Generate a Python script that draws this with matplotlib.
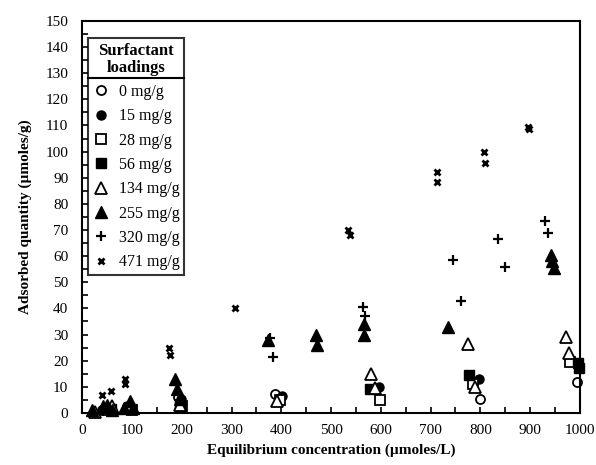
import numpy as np
import matplotlib
matplotlib.use('Agg')
from matplotlib import pyplot as plt
from matplotlib.ticker import MultipleLocator
from matplotlib.lines import Line2D

plt.rcParams['font.family'] = ['Liberation Serif', 'DejaVu Serif']

# surfactant loadings and their data (equilibrium conc, adsorbed quantity)
labels = ['0 mg/g', '15 mg/g', '28 mg/g', '56 mg/g', '134 mg/g', '255 mg/g', '320 mg/g', '471 mg/g']

x0 = [40, 95, 192, 388, 799, 994]
y0 = [1, 1.5, 6, 7.2, 5.5, 12]

x15 = [48, 90, 198, 402, 596, 797]
y15 = [2, 2.5, 5.5, 6.5, 10, 13]

x28 = [52, 100, 200, 398, 598, 785, 981]
y28 = [1, 1, 2.5, 5, 5, 11, 19.5]

x56 = [58, 98, 196, 578, 777, 996, 998]
y56 = [1.5, 1.5, 3.5, 9, 14.5, 19, 17]

x134 = [25, 60, 92, 196, 392, 581, 589, 776, 790, 972, 978]
y134 = [0.5, 2.5, 2, 3, 4.5, 15, 9.5, 26.5, 10, 29, 23]

x255 = [20, 42, 50, 60, 83, 95, 102, 187, 190, 197, 373, 469, 472, 567, 567, 734, 942, 944, 947]
y255 = [1, 2.5, 3, 1, 2, 4.5, 2, 13, 9, 5.5, 28, 30, 26, 34, 30, 33, 60.5, 58, 55.5]

x320 = [377, 384, 565, 569, 744, 761, 836, 849, 930, 936]
y320 = [28.5, 21.5, 40.5, 37, 58.5, 43, 66.5, 56, 73.5, 69]

x471 = [40, 58, 85, 85, 174, 176, 307, 535, 539, 712, 712, 808, 810, 896, 897]
y471 = [7, 8.5, 13, 11, 25, 22, 40, 70, 68, 92, 88.5, 100, 95.5, 109.5, 108.5]

fig = plt.figure(figsize=(5.96, 4.65), dpi=100)
ax = fig.add_axes([0.138, 0.112, 0.835, 0.843])

ms = 6.5
ax.plot(x0, y0, 'o', mfc='white', mec='black', mew=1.3, ms=ms, label=labels[0], clip_on=False)
ax.plot(x15, y15, 'o', mfc='black', mec='black', ms=ms, label=labels[1], clip_on=False)
ax.plot(x28, y28, 's', mfc='white', mec='black', mew=1.3, ms=ms, label=labels[2], clip_on=False)
ax.plot(x56, y56, 's', mfc='black', mec='black', ms=ms, label=labels[3], clip_on=False)
ax.plot(x134, y134, '^', mfc='white', mec='black', mew=1.3, ms=ms + 1.5, label=labels[4], clip_on=False)
ax.plot(x255, y255, '^', mfc='black', mec='black', ms=ms + 1.5, label=labels[5], clip_on=False)
ax.plot(x320, y320, '+', color='black', mew=1.6, ms=ms, label=labels[6], clip_on=False)
ax.plot(x471, y471, 'x', color='black', mew=2.0, ms=4.5, label=labels[7], clip_on=False)

ax.set_xlim(0, 1000)
ax.set_ylim(0, 150)
ax.xaxis.set_major_locator(MultipleLocator(100))
ax.xaxis.set_minor_locator(MultipleLocator(50))
ax.yaxis.set_major_locator(MultipleLocator(10))
ax.yaxis.set_minor_locator(MultipleLocator(5))
ax.tick_params(which='both', direction='in', length=4, width=1.2, labelsize=11)
ax.tick_params(axis='x', pad=8)
ax.tick_params(axis='y', pad=10)
for s in ax.spines.values():
    s.set_linewidth(1.5)

ax.set_xlabel('Equilibrium concentration (\u00b5moles/L)', fontsize=11, fontweight='bold', labelpad=5)
ax.set_ylabel('Adsorbed quantity (\u00b5moles/g)', fontsize=11, fontweight='bold', labelpad=10)

leg = ax.legend(title='Surfactant\nloadings', loc='upper left', bbox_to_anchor=(0.012, 0.957),
                frameon=True, fancybox=False, edgecolor='black', fontsize=11.5,
                handletextpad=0.6, handlelength=1.0, borderpad=0.3, labelspacing=0.52,
                borderaxespad=0.0)
leg.get_title().set_fontweight('bold')
leg.get_title().set_fontsize(12)
leg.get_title().set_multialignment('center')
leg.get_title().set_linespacing(1.1)
leg.get_frame().set_linewidth(1.5)

# separator line under the legend title
fig.canvas.draw()
r = fig.canvas.get_renderer()
fb = leg.get_frame().get_window_extent(r)
tb = leg.get_title().get_window_extent(r)
yline = (tb.y0 - 2) / fig.bbox.height
fig.add_artist(Line2D([fb.x0 / fig.bbox.width, fb.x1 / fig.bbox.width], [yline, yline],
                      color='black', lw=1.5))

plt.savefig('out.png', dpi=100)
